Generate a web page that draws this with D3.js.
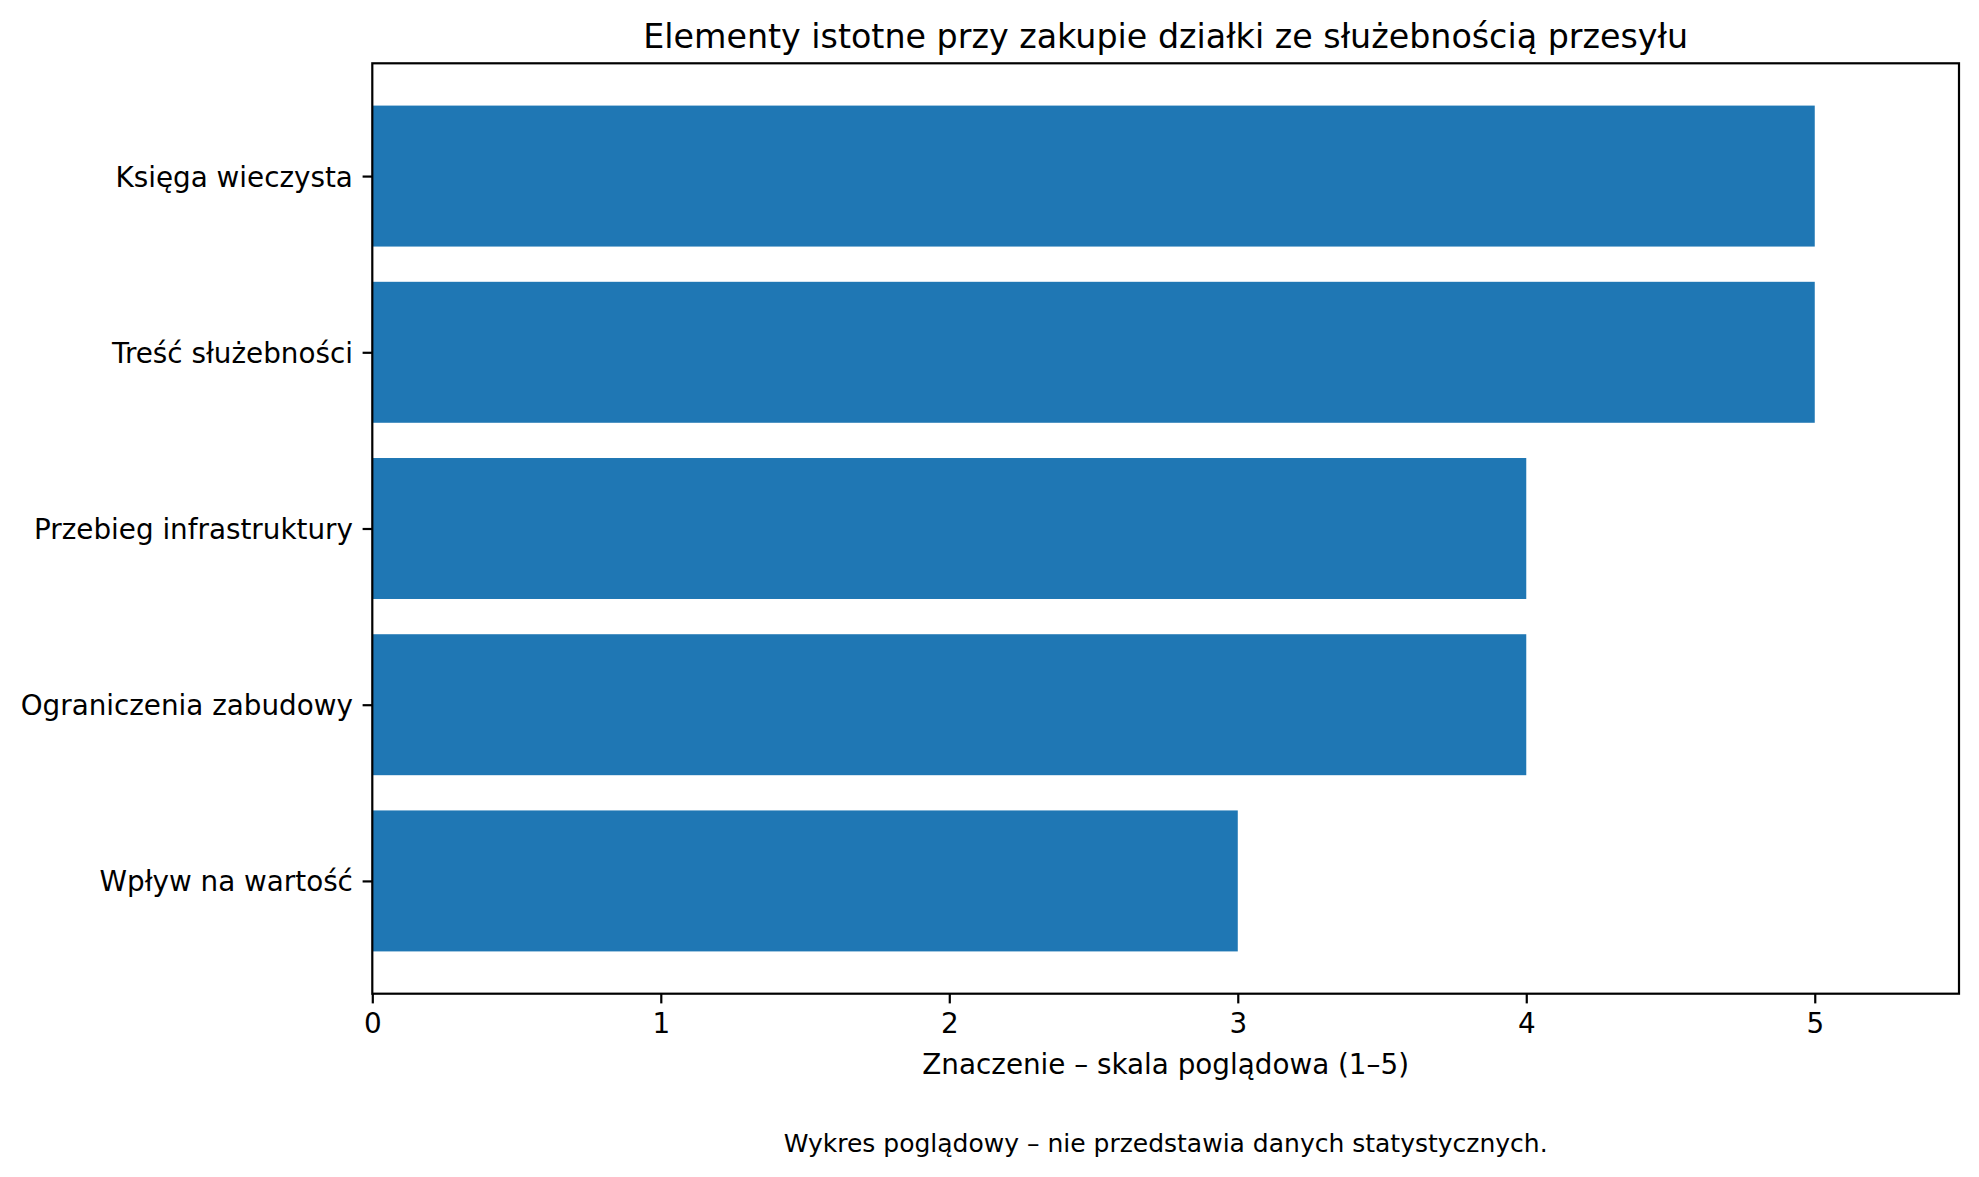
<!DOCTYPE html>
<html>
<head>
<meta charset="utf-8">
<script src="https://cdn.jsdelivr.net/npm/d3@7"></script>
<style>
  html, body { margin: 0; padding: 0; background: #fff; }
  svg { display: block; font-family: "DejaVu Sans", sans-serif; }
</style>
</head>
<body>
<svg id="chart" width="1979" height="1177"></svg>
<script>
const categories = ["Księga wieczysta", "Treść służebności", "Przebieg infrastruktury", "Ograniczenia zabudowy", "Wpływ na wartość"];
const values = [5, 5, 4, 4, 3];
const xTicks = [0, 1, 2, 3, 4, 5];
const titleText = "Elementy istotne przy zakupie działki ze służebnością przesyłu";
const xLabelText = "Znaczenie – skala poglądowa (1–5)";
const captionText = "Wykres poglądowy – nie przedstawia danych statystycznych.";

(function () {
const mLeft = 372.3, mRight = 1959, mTop = 63.3, mBottom = 993.7;
const svg = d3.select("#chart");

const x = d3.scaleLinear().domain([0, 5.5]).range([mLeft, mRight]);
// matplotlib-like: bar positions 0..n-1, inverted, bar height 0.8, 5% margins
const n = categories.length;
const y = d3.scaleLinear().domain([-0.64, n - 1 + 0.64]).range([mTop, mBottom]);
const barH = 0.8;

svg.append("g").selectAll("rect").data(categories).join("rect")
  .attr("x", x(0))
  .attr("y", (d, i) => y(i - barH / 2))
  .attr("width", (d, i) => x(values[i]) - x(0))
  .attr("height", (d, i) => y(i + barH / 2) - y(i - barH / 2))
  .attr("fill", "#1f77b4");

// frame
svg.append("rect")
  .attr("x", mLeft).attr("y", mTop)
  .attr("width", mRight - mLeft).attr("height", mBottom - mTop)
  .attr("fill", "none").attr("stroke", "#000").attr("stroke-width", 2.2);

// x axis
const xAxis = d3.axisBottom(x).tickValues(xTicks).tickFormat(d3.format("d"))
  .tickSize(9.7).tickPadding(9.7);
const gx = svg.append("g").attr("transform", `translate(0,${mBottom})`).call(xAxis);
gx.select(".domain").remove();
gx.selectAll(".tick line").attr("stroke", "#000").attr("stroke-width", 2.2);
gx.selectAll(".tick text").attr("font-size", 27.8).attr("fill", "#000")
  .attr("font-family", "DejaVu Sans");

// y axis
const yAxis = d3.axisLeft(y).tickValues(d3.range(n)).tickFormat(i => categories[i])
  .tickSize(9.7).tickPadding(9.7);
const gy = svg.append("g").attr("transform", `translate(${mLeft},0)`).call(yAxis);
gy.select(".domain").remove();
gy.selectAll(".tick line").attr("stroke", "#000").attr("stroke-width", 2.2);
gy.selectAll(".tick text").attr("font-size", 27.8).attr("fill", "#000")
  .attr("font-family", "DejaVu Sans").attr("dy", "0.36em");

// title
svg.append("text")
  .attr("x", (mLeft + mRight) / 2).attr("y", 48.3)
  .attr("text-anchor", "middle").attr("font-size", 33.3).attr("fill", "#000")
  .text(titleText);

// x label
svg.append("text")
  .attr("x", (mLeft + mRight) / 2).attr("y", 1074)
  .attr("text-anchor", "middle").attr("font-size", 27.8).attr("fill", "#000")
  .text(xLabelText);

// caption
svg.append("text")
  .attr("x", (mLeft + mRight) / 2).attr("y", 1152)
  .attr("text-anchor", "middle").attr("font-size", 25).attr("fill", "#000")
  .text(captionText);
})();
</script>
</body>
</html>
